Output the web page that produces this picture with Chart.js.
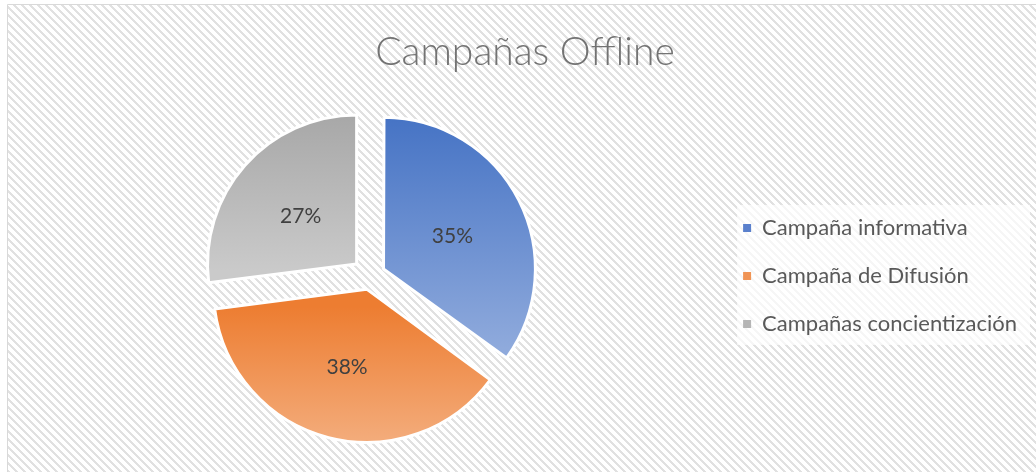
<!DOCTYPE html>
<html>
<head>
<meta charset="utf-8">
<script src="https://cdn.jsdelivr.net/npm/chart.js@4/dist/chart.umd.min.js"></script>
<style>
  html, body { margin: 0; padding: 0; background: #ffffff; }
  #wrap { width: 1036px; height: 472px; position: relative; }
</style>
</head>
<body>
<div id="wrap"><canvas id="c" width="1036" height="472"></canvas></div>
<script>
const chartTitle = 'Campañas Offline';
const categories = ['Campaña informativa', 'Campaña de Difusión', 'Campañas concientización'];
const values = [35, 38, 27];
const percentLabels = ['35%', '38%', '27%'];

const topColors = ['#4472C4', '#ED7D31', '#A5A5A5'];
const bottomColors = ['#8FAADC', '#F4B183', '#CACACA'];
const legendColors = ['#5A80CC', '#F09455', '#B5B5B5'];

const RADIUS = 149;
const OFFSET = 18;   // visual explode distance in px
const FONT = 'Lato, "Open Sans", sans-serif';

// Chart.js v4 applies offset/4 * (2 - sin(circumference)); convert to a visual distance
function chartOffset(context) {
  const total = values.reduce((a, b) => a + b, 0);
  const circ = values[context.dataIndex] / total * Math.PI * 2;
  const fix = 1 - Math.sin(Math.min(Math.PI, circ));
  return 4 * OFFSET / (1 + fix);
}

// hatch pattern
function makePattern(ctx) {
  const t = document.createElement('canvas');
  t.width = 8; t.height = 8;
  const tc = t.getContext('2d');
  tc.fillStyle = '#ffffff';
  tc.fillRect(0, 0, 8, 8);
  tc.fillStyle = '#e1e1e1';
  for (let y = 0; y < 8; y++) {
    for (let x = 0; x < 8; x++) {
      const d = ((x - y) % 8 + 8) % 8;
      if (d < 3) tc.fillRect(x, y, 1, 1);
    }
  }
  return ctx.createPattern(t, 'repeat');
}

function sliceGradient(context) {
  const chart = context.chart;
  const i = context.dataIndex;
  const ca = chart.chartArea;
  if (!ca) return topColors[i];
  const cy = (ca.top + ca.bottom) / 2;
  const total = values.reduce((a, b) => a + b, 0);
  let acc = 0;
  for (let k = 0; k < i; k++) acc += values[k];
  const a0 = acc / total * Math.PI * 2;
  const a1 = (acc + values[i]) / total * Math.PI * 2;
  const mid = (a0 + a1) / 2;
  const oy = cy - OFFSET * Math.cos(mid);
  const ys = [oy];
  const steps = 60;
  for (let s = 0; s <= steps; s++) {
    const a = a0 + (a1 - a0) * s / steps;
    ys.push(oy - RADIUS * Math.cos(a));
  }
  const yTop = Math.min(...ys), yBot = Math.max(...ys);
  const g = chart.ctx.createLinearGradient(0, yTop, 0, yBot);
  g.addColorStop(0, topColors[i]);
  g.addColorStop(1, bottomColors[i]);
  return g;
}

const backgroundPlugin = {
  id: 'bgHatch',
  beforeDraw(chart) {
    const ctx = chart.ctx;
    ctx.save();
    ctx.fillStyle = '#ffffff';
    ctx.fillRect(0, 0, chart.width, chart.height);
    ctx.fillStyle = makePattern(ctx);
    ctx.fillRect(8, 5, chart.width - 8, chart.height - 5);
    ctx.strokeStyle = '#d9d9d9';
    ctx.lineWidth = 1;
    ctx.beginPath();
    ctx.moveTo(7.5, chart.height);
    ctx.lineTo(7.5, 4.5);
    ctx.lineTo(chart.width, 4.5);
    ctx.stroke();
    // legend translucent box
    const lg = chart.legend;
    if (lg && lg.legendHitBoxes && lg.legendHitBoxes.length) {
      const hb = lg.legendHitBoxes;
      const x0 = hb[0].left - 6;
      const y0 = hb[0].top - 12;
      const last = hb[hb.length - 1];
      const y1 = last.top + last.height + 10;
      ctx.fillStyle = 'rgba(255,255,255,0.7)';
      ctx.fillRect(x0, y0, lg.right + 3 - x0, y1 - y0);
    }
    ctx.restore();
  }
};

const labelPlugin = {
  id: 'sliceLabels',
  afterDatasetsDraw(chart) {
    const ctx = chart.ctx;
    const meta = chart.getDatasetMeta(0);
    ctx.save();
    ctx.font = '21px ' + FONT;
    ctx.fillStyle = '#404040';
    ctx.textAlign = 'center';
    ctx.textBaseline = 'middle';
    meta.data.forEach((arc, i) => {
      const p = arc.getProps(['x', 'y', 'startAngle', 'endAngle', 'outerRadius'], true);
      const mid = (p.startAngle + p.endAngle) / 2;
      const d = OFFSET + p.outerRadius * 0.5;
      ctx.fillText(percentLabels[i], p.x + Math.cos(mid) * d, p.y + Math.sin(mid) * d + 2);
    });
    ctx.restore();
  }
};

new Chart(document.getElementById('c'), {
  type: 'pie',
  data: {
    labels: categories,
    datasets: [{
      data: values,
      backgroundColor: sliceGradient,
      borderColor: '#ffffff',
      borderWidth: 3,
      offset: chartOffset,
      radius: RADIUS
    }]
  },
  options: {
    responsive: false,
    animation: false,
    layout: { padding: { top: 0, left: 23, right: 9, bottom: 0 } },
    plugins: {
      tooltip: { enabled: false },
      title: {
        display: true,
        text: chartTitle,
        color: '#737373',
        font: { family: FONT, size: 39, weight: '300', lineHeight: 1.2 },
        padding: { top: 29, bottom: 4 }
      },
      legend: {
        display: true,
        position: 'right',
        align: 'center',
        fullSize: false,
        labels: {
          boxWidth: 8,
          boxHeight: 8,
          padding: 26,
          color: '#595959',
          font: { family: FONT, size: 22 },
          generateLabels(chart) {
            return categories.map((t, i) => ({
              text: t,
              fillStyle: legendColors[i],
              strokeStyle: legendColors[i],
              lineWidth: 0,
              fontColor: '#595959',
              hidden: false,
              index: i
            }));
          }
        }
      }
    }
  },
  plugins: [backgroundPlugin, labelPlugin]
});
</script>
</body>
</html>
